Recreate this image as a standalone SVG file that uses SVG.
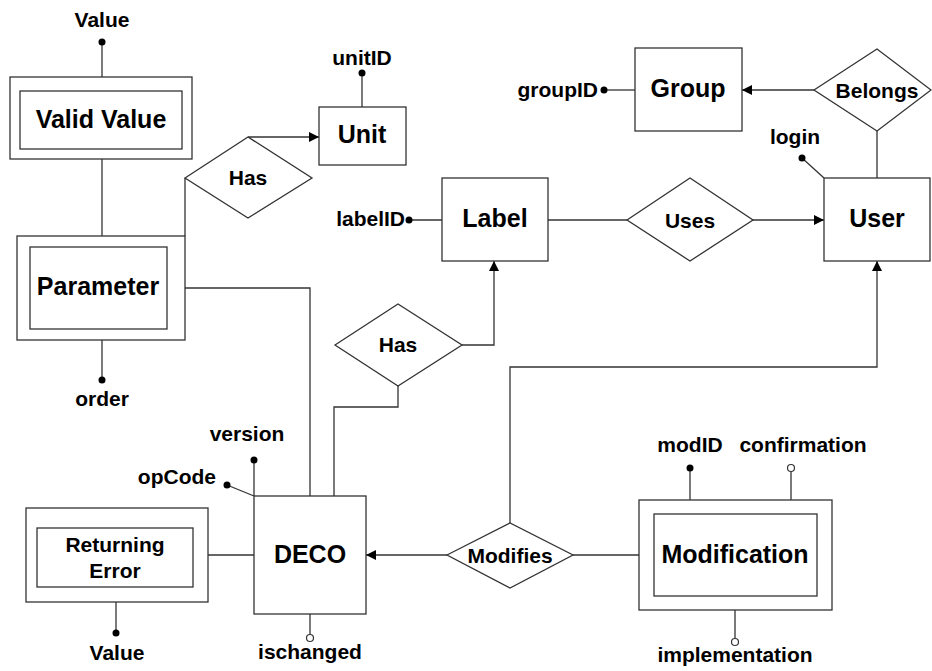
<svg xmlns="http://www.w3.org/2000/svg" width="932" height="671" viewBox="0 0 932 671">
<defs>
<style>
.box{fill:#fff;stroke:#333;stroke-width:1.3}
.ln{fill:none;stroke:#333;stroke-width:1.3}
.t{font-family:"Liberation Sans",Arial,sans-serif;font-weight:bold;fill:#000;text-anchor:middle}
.big{font-size:25px}
.sm{font-size:21px}
.dot{fill:#000}
.odot{fill:#fff;stroke:#333;stroke-width:1.2}
</style>
<marker id="arr" viewBox="0 0 10 10" refX="10" refY="5" markerWidth="10" markerHeight="10" markerUnits="userSpaceOnUse" orient="auto">
<path d="M0,0 L10,5 L0,10 z" fill="#000"/>
</marker>
</defs>
<rect width="932" height="671" fill="#fff"/>
<g id="connectors">
<line class="ln" x1="102" y1="42" x2="102" y2="77"/>
<line class="ln" x1="102" y1="159" x2="102" y2="236"/>
<line class="ln" x1="185" y1="178" x2="185" y2="236"/>
<line class="ln" x1="248" y1="137" x2="319" y2="137" marker-end="url(#arr)"/>
<line class="ln" x1="362" y1="73" x2="362" y2="107"/>
<polyline class="ln" points="185,288 310,288 310,496"/>
<line class="ln" x1="102" y1="340" x2="102" y2="380"/>
<line class="ln" x1="409" y1="220" x2="442" y2="220"/>
<line class="ln" x1="548" y1="220" x2="627" y2="220"/>
<line class="ln" x1="753" y1="220" x2="824" y2="220" marker-end="url(#arr)"/>
<line class="ln" x1="604" y1="90" x2="635" y2="90"/>
<line class="ln" x1="814" y1="90" x2="742" y2="90" marker-end="url(#arr)"/>
<line class="ln" x1="877" y1="131" x2="877" y2="178"/>
<line class="ln" x1="802" y1="158" x2="824" y2="178"/>
<polyline class="ln" points="462,345 494,345 494,261" marker-end="url(#arr)"/>
<polyline class="ln" points="398,386 398,407 334,407 334,496"/>
<line class="ln" x1="254" y1="460" x2="254" y2="496"/>
<line class="ln" x1="227" y1="485" x2="254" y2="496"/>
<line class="ln" x1="208" y1="555" x2="254" y2="555"/>
<line class="ln" x1="447" y1="555" x2="366" y2="555" marker-end="url(#arr)"/>
<line class="ln" x1="573" y1="555" x2="639" y2="555"/>
<polyline class="ln" points="510,523 510,367 877,367 877,261" marker-end="url(#arr)"/>
<line class="ln" x1="690" y1="500" x2="690" y2="468"/>
<line class="ln" x1="791" y1="500" x2="791" y2="472"/>
<line class="ln" x1="735" y1="610" x2="735" y2="638"/>
<line class="ln" x1="310" y1="614" x2="310" y2="634"/>
<line class="ln" x1="116" y1="602" x2="116" y2="633"/>
<circle class="dot" cx="102" cy="42" r="3.5"/>
<circle class="dot" cx="362" cy="73" r="3.5"/>
<circle class="dot" cx="102" cy="380" r="3.5"/>
<circle class="dot" cx="409" cy="220" r="3.5"/>
<circle class="dot" cx="604" cy="90" r="3.5"/>
<circle class="dot" cx="802" cy="158" r="3.5"/>
<circle class="dot" cx="254" cy="460" r="3.5"/>
<circle class="dot" cx="227" cy="485" r="3.5"/>
<circle class="dot" cx="690" cy="468" r="3.5"/>
<circle class="dot" cx="116" cy="633" r="3.5"/>
<circle class="odot" cx="791" cy="468" r="3.5"/>
<circle class="odot" cx="735" cy="642" r="3.5"/>
<circle class="odot" cx="310" cy="638" r="3.5"/>
</g>
<g id="attr-labels">
<text class="t sm" x="102" y="27">Value</text>
<text class="t sm" x="362" y="65">unitID</text>
<text class="t sm" x="598" y="97" style="text-anchor:end">groupID</text>
<text class="t sm" x="795" y="144">login</text>
<text class="t sm" x="405" y="226" style="text-anchor:end">labelID</text>
<text class="t sm" x="102" y="406">order</text>
<text class="t sm" x="247" y="441">version</text>
<text class="t sm" x="216" y="484" style="text-anchor:end">opCode</text>
<text class="t sm" x="310" y="659">ischanged</text>
<text class="t sm" x="117" y="660">Value</text>
<text class="t sm" x="690" y="452">modID</text>
<text class="t sm" x="803" y="452">confirmation</text>
<text class="t sm" x="735" y="662">implementation</text>
</g>
<g id="valid-value">
<rect class="box" x="10" y="77" width="182" height="82"/>
<rect class="box" x="20" y="91" width="162" height="58"/>
<text class="t big" x="101" y="128">Valid Value</text>
</g>
<g id="parameter">
<rect class="box" x="17" y="236" width="168" height="104"/>
<rect class="box" x="30" y="247" width="137" height="82"/>
<text class="t big" x="98" y="295">Parameter</text>
</g>
<g id="has-unit">
<polygon class="box" points="185,178 248,137 312,178 248,218"/>
<text class="t sm" x="248" y="185">Has</text>
</g>
<g id="unit">
<rect class="box" x="319" y="107" width="87" height="58"/>
<text class="t big" x="362" y="143">Unit</text>
</g>
<g id="group">
<rect class="box" x="635" y="48" width="107" height="83"/>
<text class="t big" x="688" y="97">Group</text>
</g>
<g id="belongs">
<polygon class="box" points="814,90 877,49 931,90 877,131"/>
<text class="t sm" x="877" y="98">Belongs</text>
</g>
<g id="label">
<rect class="box" x="442" y="178" width="106" height="83"/>
<text class="t big" x="495" y="227">Label</text>
</g>
<g id="uses">
<polygon class="box" points="627,220 690,178 753,220 690,261"/>
<text class="t sm" x="690" y="228">Uses</text>
</g>
<g id="user">
<rect class="box" x="824" y="178" width="106" height="83"/>
<text class="t big" x="877" y="227">User</text>
</g>
<g id="has-label">
<polygon class="box" points="335,345 398,304 462,345 398,386"/>
<text class="t sm" x="398" y="352">Has</text>
</g>
<g id="deco">
<rect class="box" x="254" y="496" width="112" height="118"/>
<text class="t big" x="310" y="563">DECO</text>
</g>
<g id="returning-error">
<rect class="box" x="26" y="508" width="182" height="94"/>
<rect class="box" x="37" y="528" width="156" height="59"/>
<text class="t sm" x="115" y="552">Returning</text>
<text class="t sm" x="115" y="578">Error</text>
</g>
<g id="modifies">
<polygon class="box" points="447,555 510,523 573,555 510,588"/>
<text class="t sm" x="510" y="563">Modifies</text>
</g>
<g id="modification">
<rect class="box" x="639" y="500" width="193" height="110"/>
<rect class="box" x="654" y="514" width="163" height="82"/>
<text class="t big" x="735" y="563">Modification</text>
</g>
</svg>
